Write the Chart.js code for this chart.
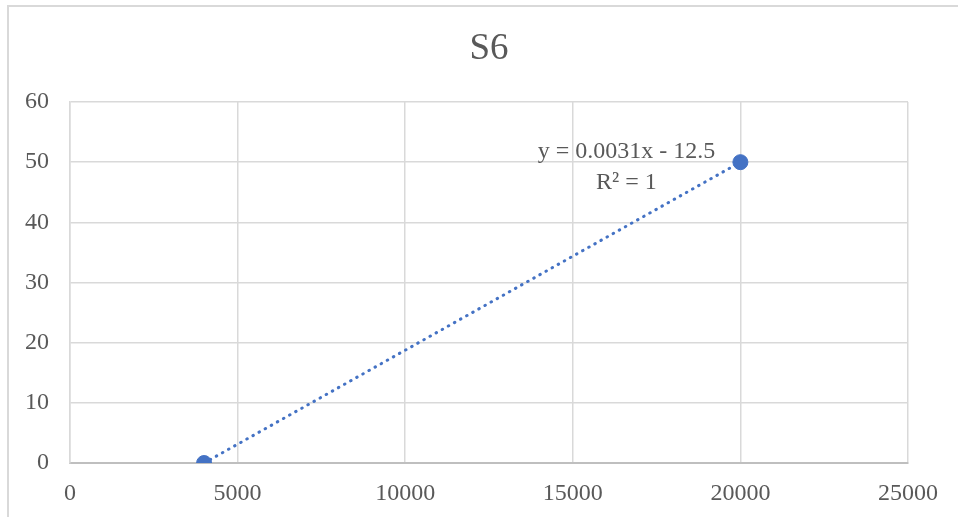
<!DOCTYPE html>
<html>
<head>
<meta charset="utf-8">
<script src="https://cdn.jsdelivr.net/npm/chart.js@4/dist/chart.umd.min.js"></script>
<style>
    html, body { margin: 0; padding: 0; background: #ffffff; }
    #wrap { position: relative; width: 958px; height: 517px; overflow: hidden; }
    #frame { position: absolute; left: 7px; top: 5px; width: 960px; height: 540px; border: 2px solid #d9d9d9; box-sizing: border-box; }
    #chart { position: absolute; left: 0; top: 0; }
</style>
</head>
<body>
<div id="wrap">
    <div id="frame"></div>
    <canvas id="chart" width="958" height="517"></canvas>
</div>
<script>
// Dane
const seriesX = [4000, 20000];
const seriesY = [0, 50];
const trendText = ['y = 0.0031x - 12.5', 'R² = 1'];
const chartTitle = 'S6';

const blue = '#4472C4';
const textColor = '#595959';
const serif = '"Liberation Serif", "Times New Roman", serif';

// Punkty i linia trendu
const points = seriesX.map((x, i) => ({ x: x, y: seriesY[i] }));

// Tytuł i etykieta równania trendu
const labels = {
    id: 'labels',
    afterDatasetsDraw(chart) {
        const ctx = chart.ctx;
        const xs = chart.scales.x;
        const ys = chart.scales.y;
        ctx.save();
        ctx.fillStyle = textColor;
        ctx.textAlign = 'center';
        ctx.textBaseline = 'middle';

        ctx.font = '37px ' + serif;
        ctx.fillText(chartTitle, 489, 49);

        const px = xs.getPixelForValue(seriesX[1]) - 114;
        const py = ys.getPixelForValue(seriesY[1]);
        ctx.font = '24px ' + serif;
        ctx.fillText(trendText[0], px, py - 10);
        ctx.fillText(trendText[1], px, py + 21);
        ctx.restore();
    }
};

new Chart(document.getElementById('chart'), {
    type: 'scatter',
    data: {
        datasets: [
            {
                label: 'S6',
                data: points,
                backgroundColor: blue,
                borderColor: blue,
                pointRadius: 7.5,
                pointBorderWidth: 1,
                order: 1
            },
            {
                label: 'Trend',
                type: 'line',
                data: points,
                borderColor: blue,
                borderWidth: 3,
                borderDash: [0.5, 6.5],
                borderCapStyle: 'round',
                pointRadius: 0,
                fill: false,
                order: 2
            }
        ]
    },
    options: {
        responsive: false,
        animation: false,
        layout: { padding: { left: 0, right: 50, top: 102, bottom: 0 } },
        plugins: {
            legend: { display: false },
            tooltip: { enabled: false },
            title: { display: false }
        },
        scales: {
            x: {
                type: 'linear',
                min: 0,
                max: 25000,
                ticks: {
                    stepSize: 5000,
                    color: textColor,
                    padding: 16,
                    maxRotation: 0,
                    font: { family: serif, size: 24 },
                    callback: v => String(v)
                },
                grid: { color: '#d9d9d9', lineWidth: 1.5, drawTicks: false },
                border: { color: '#bfbfbf', width: 2 },
                afterFit(scale) { scale.height = 54; }
            },
            y: {
                min: 0,
                max: 60,
                ticks: {
                    stepSize: 10,
                    color: textColor,
                    padding: 21,
                    font: { family: serif, size: 24 }
                },
                grid: { color: '#d9d9d9', lineWidth: 1.5, drawTicks: false },
                border: { color: '#d9d9d9', width: 1.5 },
                afterFit(scale) { scale.width = 70; }
            }
        }
    },
    plugins: [labels]
});
</script>
</body>
</html>
